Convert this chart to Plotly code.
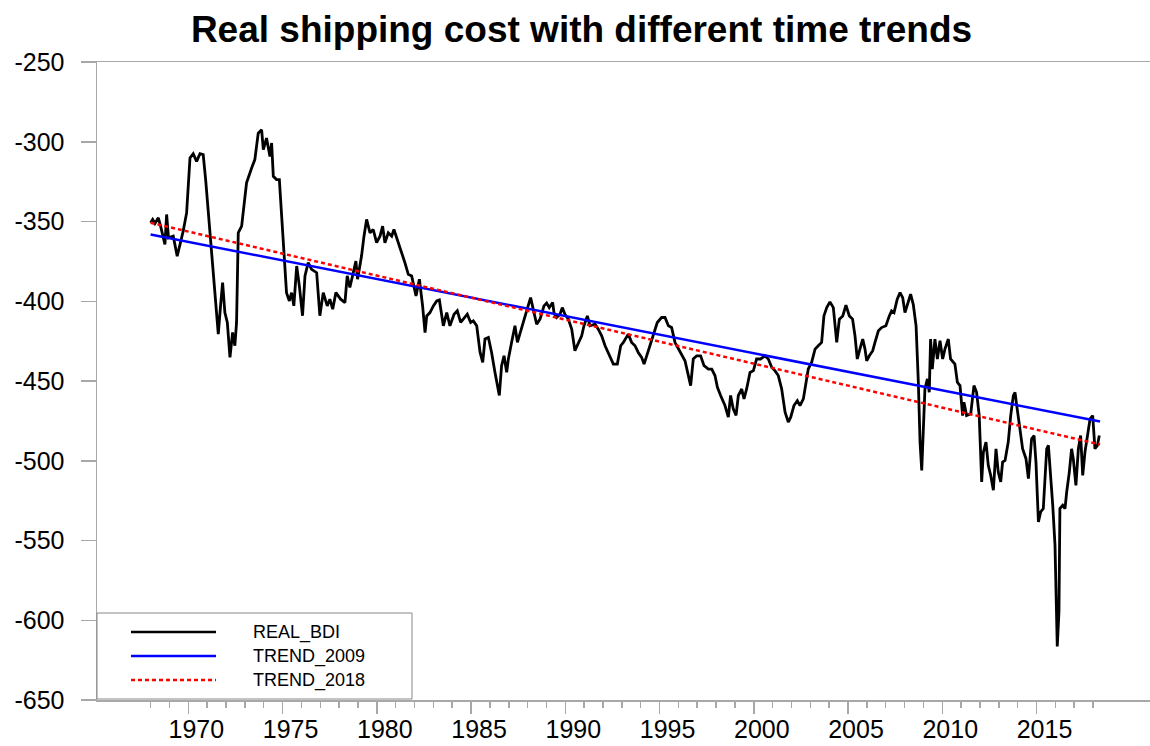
import plotly.graph_objects as go

# ---------------- data ----------------
YEAR = [
    1968.00, 1968.11, 1968.23, 1968.41, 1968.53, 1968.67, 1968.76, 1968.85, 1968.95, 1969.20,
    1969.41, 1969.56, 1969.73, 1969.91, 1970.09, 1970.26, 1970.44, 1970.62, 1970.79, 1970.92,
    1971.06, 1971.24, 1971.41, 1971.59, 1971.71, 1971.82, 1971.94, 1972.07, 1972.21, 1972.35,
    1972.47, 1972.56, 1972.65, 1972.83, 1972.95, 1973.09, 1973.36, 1973.53, 1973.71, 1973.89,
    1973.98, 1974.15, 1974.33, 1974.42, 1974.51, 1974.68, 1974.83, 1974.95, 1975.07, 1975.21,
    1975.36, 1975.48, 1975.60, 1975.75, 1975.89, 1976.06, 1976.19, 1976.36, 1976.54, 1976.81,
    1976.98, 1977.16, 1977.37, 1977.51, 1977.66, 1977.83, 1978.08, 1978.31, 1978.43, 1978.57,
    1978.75, 1978.89, 1978.98, 1979.11, 1979.19, 1979.32, 1979.46, 1979.64, 1979.81, 1979.99,
    1980.17, 1980.31, 1980.43, 1980.61, 1980.79, 1980.91, 1981.09, 1981.32, 1981.49, 1981.67,
    1981.85, 1982.08, 1982.26, 1982.43, 1982.56, 1982.65, 1982.82, 1983.00, 1983.18, 1983.32,
    1983.44, 1983.53, 1983.71, 1983.88, 1984.10, 1984.27, 1984.45, 1984.59, 1984.80, 1984.98,
    1985.12, 1985.30, 1985.48, 1985.62, 1985.74, 1985.92, 1986.09, 1986.27, 1986.50, 1986.62,
    1986.75, 1986.89, 1986.98, 1987.15, 1987.33, 1987.46, 1987.60, 1987.77, 1987.95, 1988.16,
    1988.34, 1988.48, 1988.66, 1988.87, 1989.01, 1989.15, 1989.33, 1989.40, 1989.54, 1989.72,
    1989.84, 1989.98, 1990.16, 1990.34, 1990.51, 1990.69, 1990.87, 1990.99, 1991.17, 1991.31,
    1991.58, 1991.75, 1991.93, 1992.11, 1992.28, 1992.55, 1992.76, 1992.94, 1993.08, 1993.34,
    1993.52, 1993.70, 1993.87, 1994.05, 1994.18, 1994.32, 1994.49, 1994.67, 1994.88, 1995.11,
    1995.29, 1995.47, 1995.64, 1995.82, 1996.00, 1996.17, 1996.35, 1996.53, 1996.65, 1996.79,
    1996.97, 1997.18, 1997.36, 1997.59, 1997.77, 1997.94, 1998.07, 1998.24, 1998.47, 1998.65,
    1998.77, 1998.91, 1999.06, 1999.18, 1999.36, 1999.48, 1999.62, 1999.80, 1999.98, 2000.15,
    2000.36, 2000.59, 2000.77, 2000.95, 2001.12, 2001.30, 2001.48, 2001.66, 2001.83, 2001.96,
    2002.13, 2002.31, 2002.45, 2002.63, 2002.77, 2002.89, 2003.07, 2003.25, 2003.42, 2003.60,
    2003.72, 2003.87, 2004.04, 2004.22, 2004.40, 2004.54, 2004.72, 2004.89, 2005.07, 2005.24,
    2005.37, 2005.49, 2005.63, 2005.78, 2005.90, 2005.99, 2006.13, 2006.31, 2006.43, 2006.61,
    2006.78, 2007.01, 2007.19, 2007.31, 2007.44, 2007.61, 2007.76, 2007.90, 2008.02, 2008.20,
    2008.32, 2008.46, 2008.61, 2008.73, 2008.82, 2008.91, 2009.00, 2009.08, 2009.21, 2009.31,
    2009.38, 2009.47, 2009.61, 2009.74, 2009.88, 2010.02, 2010.14, 2010.32, 2010.44, 2010.67,
    2010.80, 2010.94, 2011.08, 2011.15, 2011.29, 2011.51, 2011.68, 2011.82, 2011.96, 2012.09,
    2012.18, 2012.32, 2012.44, 2012.57, 2012.71, 2012.85, 2012.97, 2013.10, 2013.20, 2013.33,
    2013.50, 2013.63, 2013.77, 2013.86, 2013.95, 2014.03, 2014.12, 2014.26, 2014.44, 2014.57,
    2014.74, 2014.87, 2014.97, 2015.10, 2015.22, 2015.36, 2015.54, 2015.63, 2015.71, 2015.86,
    2015.98, 2016.07, 2016.10, 2016.19, 2016.24, 2016.39, 2016.51, 2016.60, 2016.74, 2016.86,
    2016.95, 2017.09, 2017.22, 2017.34, 2017.45, 2017.57, 2017.70, 2017.84, 2017.98, 2018.10,
    2018.23, 2018.33,
]

REAL_BDI = [
    -350.8, -348.7, -351.2, -347.7, -352.9, -359.2, -364.4, -345.6, -360.2, -359.2,
    -371.7, -364.4, -356.0, -344.6, -310.2, -307.5, -312.3, -307.5, -308.1, -323.7,
    -344.6, -369.6, -398.7, -420.6, -402.9, -388.3, -407.1, -413.3, -435.2, -419.6,
    -427.9, -413.3, -357.1, -352.9, -340.4, -325.8, -316.5, -311.2, -294.6, -292.5,
    -305.0, -297.7, -309.2, -300.8, -321.7, -323.7, -323.7, -344.6, -369.6, -394.6,
    -399.8, -394.6, -402.9, -377.9, -390.4, -409.1, -384.1, -375.8, -380.0, -382.1,
    -409.1, -394.6, -402.9, -398.7, -405.0, -394.6, -398.7, -400.8, -384.1, -391.4,
    -382.1, -374.8, -386.2, -377.9, -371.7, -359.2, -348.7, -357.1, -355.0, -363.3,
    -359.2, -352.9, -363.3, -357.1, -359.2, -355.0, -361.2, -369.6, -375.8, -383.1,
    -384.1, -396.7, -386.2, -402.9, -419.6, -409.2, -407.1, -402.9, -399.8, -399.2,
    -407.1, -415.4, -407.1, -415.4, -408.1, -406.0, -413.3, -411.2, -408.1, -413.3,
    -412.3, -415.4, -432.1, -438.3, -423.7, -422.7, -432.1, -444.6, -459.1, -440.4,
    -434.2, -444.6, -436.2, -425.8, -415.4, -425.8, -419.6, -413.3, -406.0, -397.7,
    -407.1, -414.4, -411.2, -402.9, -401.2, -404.0, -400.8, -407.1, -410.2, -408.1,
    -404.0, -408.1, -411.2, -417.5, -431.0, -425.8, -421.7, -415.4, -409.2, -415.4,
    -414.4, -417.5, -421.7, -427.9, -432.1, -439.4, -439.4, -427.9, -425.8, -420.6,
    -425.8, -427.9, -432.1, -435.2, -439.4, -434.2, -427.9, -420.6, -413.3, -410.2,
    -410.2, -415.4, -416.4, -425.8, -430.0, -433.1, -437.3, -446.6, -452.9, -436.2,
    -434.2, -434.2, -440.4, -442.5, -442.5, -446.6, -454.0, -459.1, -465.4, -472.7,
    -459.1, -467.5, -471.6, -459.1, -455.0, -461.2, -455.0, -444.6, -443.5, -436.2,
    -436.2, -434.2, -436.2, -441.4, -443.5, -446.6, -455.0, -469.6, -475.8, -472.7,
    -465.4, -462.3, -465.4, -461.2, -450.8, -442.5, -438.3, -430.0, -427.9, -425.8,
    -409.2, -404.0, -400.4, -404.0, -425.8, -411.2, -409.2, -402.5, -409.2, -411.2,
    -421.7, -436.2, -430.0, -423.7, -430.0, -437.3, -434.2, -431.0, -425.8, -418.5,
    -416.5, -415.4, -409.2, -406.0, -407.1, -398.7, -394.6, -397.7, -407.1, -400.8,
    -395.6, -401.9, -415.4, -450.8, -488.3, -506.0, -484.1, -455.0, -448.7, -457.1,
    -423.7, -442.5, -423.7, -436.2, -424.8, -436.2, -430.0, -423.7, -436.2, -439.4,
    -450.8, -452.9, -471.7, -463.3, -471.7, -470.6, -452.9, -457.1, -471.7, -513.3,
    -494.6, -488.3, -502.9, -509.2, -518.5, -492.5, -507.1, -513.3, -500.8, -499.8,
    -488.3, -471.7, -459.2, -457.1, -465.4, -473.7, -480.0, -492.5, -498.7, -511.2,
    -486.2, -484.2, -500.8, -538.3, -532.1, -530.0, -492.5, -490.4, -502.9, -527.9,
    -552.9, -594.6, -616.4, -594.6, -530.0, -527.9, -530.0, -519.6, -507.1, -492.5,
    -498.7, -515.4, -492.5, -484.2, -509.2, -494.6, -484.2, -473.7, -471.7, -492.5,
    -490.4, -484.2,
]

TREND_YEAR = [1968.00, 2018.37]
TREND_2009 = [-358.1, -475.4]
TREND_2018 = [-350.8, -489.8]

X_TICKS = [1970, 1975, 1980, 1985, 1990, 1995, 2000, 2005, 2010, 2015]
X_TICK_LABELS = ["1970", "1975", "1980", "1985", "1990", "1995", "2000", "2005", "2010", "2015"]
X_MINOR_TICKS = list(range(1968, 2019))
Y_TICKS = [-650, -600, -550, -500, -450, -400, -350, -300, -250]
Y_TICK_LABELS = ["-650", "-600", "-550", "-500", "-450", "-400", "-350", "-300", "-250"]

SERIES_NAMES = ["REAL_BDI", "TREND_2009", "TREND_2018"]

# ---------------- figure ----------------
W, H = 1150, 746
ML, MT, MR = 97, 62, 0
MB = H - 700
PW, PH = W - ML - MR, H - MT - MB
FONT = "Liberation Sans, Arial, Helvetica, sans-serif"
AXC = "#a8a8a8"

fig = go.Figure()
fig.add_trace(go.Scatter(x=YEAR, y=REAL_BDI, mode="lines", name=SERIES_NAMES[0],
                         line=dict(color="black", width=2.8), showlegend=False))
fig.add_trace(go.Scatter(x=TREND_YEAR, y=TREND_2009, mode="lines", name=SERIES_NAMES[1],
                         line=dict(color="#0000ff", width=2.5), showlegend=False))
fig.add_trace(go.Scatter(x=TREND_YEAR, y=TREND_2018, mode="lines", name=SERIES_NAMES[2],
                         line=dict(color="#ff0000", width=2.5, dash="4px,3px"), showlegend=False))


def px2paper(px, py):
    """page pixel -> paper coordinates"""
    return (px - ML) / PW, (H - MB - py) / PH


# custom legend box (placed in pixel terms)
x0, y0 = px2paper(97, 699)
x1, y1 = px2paper(412, 613)
shapes = [dict(type="rect", xref="paper", yref="paper", x0=x0, y0=y0, x1=x1, y1=y1,
               line=dict(color="#888888", width=1), fillcolor="white", layer="above")]
annotations = []
leg_styles = [dict(color="black", width=2.5), dict(color="#0000ff", width=2.5),
              dict(color="#ff0000", width=2.5, dash="4px,3px")]
rows_y = [632, 656, 680]
for name, st, ry in zip(SERIES_NAMES, leg_styles, rows_y):
    lx0, ly = px2paper(131, ry)
    lx1, _ = px2paper(216, ry)
    shapes.append(dict(type="line", xref="paper", yref="paper", x0=lx0, x1=lx1, y0=ly, y1=ly,
                       line=st, layer="above"))
    tx, _ = px2paper(251, ry)
    annotations.append(dict(xref="paper", yref="paper", x=tx, y=ly, text=name, showarrow=False,
                            xanchor="left", yanchor="middle",
                            font=dict(family=FONT, size=18, color="black")))

fig.update_layout(
    width=W, height=H,
    margin=dict(l=ML, r=MR, t=MT, b=MB, pad=0, autoexpand=False),
    paper_bgcolor="white", plot_bgcolor="white",
    title=dict(text="<b>Real shipping cost with different time trends</b>",
               x=581.5 / W, xref="container", xanchor="center",
               y=1 - 29 / H, yref="container", yanchor="middle", automargin=False,
               font=dict(family=FONT, size=37, color="black")),
    showlegend=False,
    hovermode=False,
    shapes=shapes,
    annotations=annotations,
    xaxis=dict(range=[1965.156, 2021.02], showgrid=False, zeroline=False, automargin=False,
               showline=True, linecolor=AXC, linewidth=1.5, mirror=True,
               ticks="outside", ticklen=12, tickwidth=1.5, tickcolor=AXC,
               tickmode="array", tickvals=X_TICKS, ticktext=X_TICK_LABELS,
               tickfont=dict(family=FONT, size=25, color="black"),
               ticklabelstandoff=-6, ticklabelshift=8,
               minor=dict(tickmode="array", tickvals=X_MINOR_TICKS, ticks="outside",
                          ticklen=6, tickwidth=1.5, tickcolor=AXC, showgrid=False)),
    yaxis=dict(range=[-650, -250], showgrid=False, zeroline=False, automargin=False,
               showline=True, linecolor=AXC, linewidth=1.5, mirror=False,
               ticks="outside", ticklen=15, tickwidth=1.5, tickcolor=AXC,
               tickmode="array", tickvals=Y_TICKS, ticktext=Y_TICK_LABELS,
               tickfont=dict(family=FONT, size=25, color="black"),
               ticklabelstandoff=11),
)

# remove the browser's default 8px page margin so the figure fills the window exactly
fig.write_html("out.html",
               config={"displayModeBar": False, "staticPlot": True},
               post_script="document.body.style.margin='0';document.body.style.overflow='hidden';")
